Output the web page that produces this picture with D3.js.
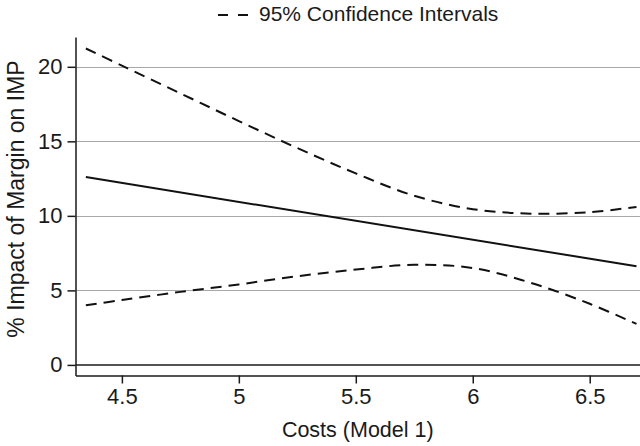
<!DOCTYPE html>
<html>
<head>
<meta charset="utf-8">
<script src="https://cdn.jsdelivr.net/npm/d3@7"></script>
<style>
  html, body { margin: 0; padding: 0; background: #fff; }
  text { font-family: "Liberation Sans", Arial, Helvetica, sans-serif; fill: #1a1a1a; }
</style>
</head>
<body>
<svg id="chart" width="640" height="446"></svg>
<script>
// Data
const costs = [4.346, 4.5, 4.75, 5.0, 5.25, 5.5, 5.75, 6.0, 6.25, 6.5, 6.7];
const upperCI = [21.23, 20.08, 18.22, 16.36, 14.55, 12.85, 11.35, 10.45, 10.15, 10.25, 10.6];
const lowerCI = [4.0, 4.35, 4.9, 5.4, 5.95, 6.4, 6.72, 6.5, 5.5, 4.1, 2.75];
const fitEnds = [4.346, 6.7];
const fitValues = [12.6, 6.62];
const xTicks = [4.5, 5, 5.5, 6, 6.5];
const yTicks = [0, 5, 10, 15, 20];
const gridValues = [5, 10, 15, 20];

const translate = (x, y) => `translate(${x}, ${y})`;

const width = 640, height = 446;
const margins = { top: 37, right: 0, bottom: 70.5, left: 75.5 };
const svg = d3.select('#chart');

// Scales
const x = d3.scaleLinear()
    .domain([4.3017, 6.715])
    .range([margins.left, width - margins.right]);
const y = d3.scaleLinear()
    .domain([-0.71, 22.0])
    .range([height - margins.bottom, margins.top]);

// Grid lines
svg.append('g')
    .selectAll('line')
    .data(gridValues)
    .join('line')
    .attr('x1', margins.left)
    .attr('x2', width)
    .attr('y1', d => Math.round(y(d)) + 0.5)
    .attr('y2', d => Math.round(y(d)) + 0.5)
    .attr('stroke', '#a8a8a8')
    .attr('stroke-width', 1.2);

// zero reference line
svg.append('line')
    .attr('x1', margins.left)
    .attr('x2', width)
    .attr('y1', y(0))
    .attr('y2', y(0))
    .attr('stroke', '#1a1a1a')
    .attr('stroke-width', 1.5);

// Axes
const xAxis = d3.axisBottom(x)
    .tickValues(xTicks)
    .tickFormat(d3.format('~g'))
    .tickSize(8)
    .tickPadding(5)
    .tickSizeOuter(0);
const gx = svg.append('g')
    .attr('transform', translate(0, height - margins.bottom))
    .call(xAxis);

const yAxis = d3.axisLeft(y)
    .tickValues(yTicks)
    .tickSize(8)
    .tickPadding(5)
    .tickSizeOuter(0);
const gy = svg.append('g')
    .attr('transform', translate(margins.left, 0))
    .call(yAxis);

[gx, gy].forEach(g => {
    g.select('.domain').attr('stroke', '#1a1a1a').attr('stroke-width', 1.5);
    g.selectAll('.tick line').attr('stroke', '#1a1a1a').attr('stroke-width', 1.5);
    g.selectAll('.tick text')
        .attr('font-size', 22)
        .attr('font-family', '"Liberation Sans", Arial, sans-serif')
        .attr('fill', '#1a1a1a');
});

// Lines
const curve = d3.line()
    .x(d => x(d[0]))
    .y(d => y(d[1]))
    .curve(d3.curveCatmullRom.alpha(0.5));

const fitLine = d3.line()
    .x(d => x(d[0]))
    .y(d => y(d[1]));

svg.append('path')
    .attr('d', fitLine(d3.zip(fitEnds, fitValues)))
    .attr('fill', 'none')
    .attr('stroke', '#111')
    .attr('stroke-width', 2);

[upperCI, lowerCI].forEach(vals => {
    svg.append('path')
        .attr('d', curve(d3.zip(costs, vals)))
        .attr('fill', 'none')
        .attr('stroke', '#111')
        .attr('stroke-width', 2)
        .attr('stroke-dasharray', '11,7');
});

// Legend on top
svg.append('line')
    .attr('x1', 218)
    .attr('x2', 249)
    .attr('y1', 15)
    .attr('y2', 15)
    .attr('stroke', '#111')
    .attr('stroke-width', 1.8)
    .attr('stroke-dasharray', '10,10');
svg.append('text')
    .attr('x', 259)
    .attr('y', 21)
    .attr('font-size', 21)
    .text('95% Confidence Intervals');

// Axis titles
svg.append('text')
    .attr('x', (margins.left + width) / 2)
    .attr('y', 437)
    .attr('text-anchor', 'middle')
    .attr('font-size', 21.5)
    .text('Costs (Model 1)');

svg.append('text')
    .attr('transform', translate(24, 199) + ' rotate(-90)')
    .attr('text-anchor', 'middle')
    .attr('font-size', 23)
    .text('% Impact of Margin on IMP');
</script>
</body>
</html>
